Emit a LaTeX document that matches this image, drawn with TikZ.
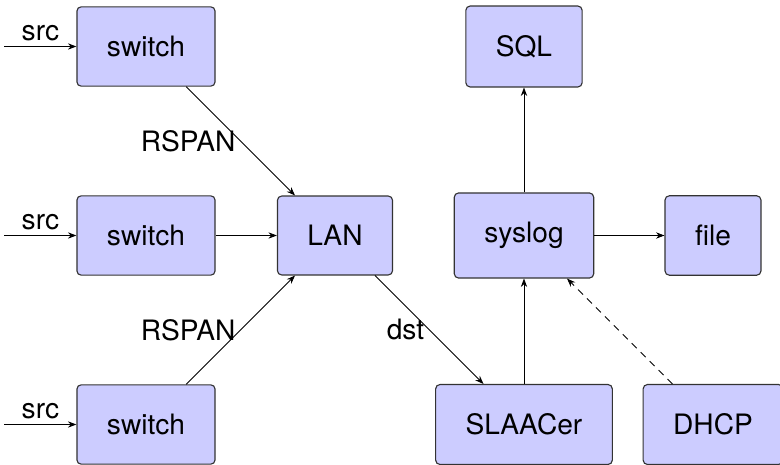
\documentclass[tikz,border=0pt]{standalone}
\usepackage{fontspec}
\setmainfont{TeX Gyre Heros}
\usepackage{tikz}
\usetikzlibrary{arrows.meta}

\tikzset{
    box/.style={draw=black!80, line width=0.8pt, fill=blue!20, rounded corners=3pt,
        inner xsep=0.75cm, inner ysep=0.73cm},
    pfeil/.style={-{Stealth[length=6pt,width=4.5pt]}, line width=0.6pt},
}

\begin{document}
\begin{tikzpicture}[x=4.725cm, y=4.725cm, font=\fontsize{20}{24}\selectfont]
    % Rahmen des Bildes
    \useasboundingbox (-3.65cm,-1.0125cm) rectangle (15.85cm,10.6125cm);

    % Switches links
    \node[box] (sw1) at (0,2) {switch};
    \node[box] (sw2) at (0,1) {switch};
    \node[box] (sw3) at (0,0) {switch};

    % Netz und Dienste
    \node[box] (lan) at (1,1) {LAN};
    \node[box] (sql) at (2,2) {SQL};
    \node[box] (syslog) at (2,1) {syslog};
    \node[box] (file) at (3,1) {file};
    \node[box] (slaacer) at (2,0) {SLAACer};
    \node[box] (dhcp) at (3,0) {DHCP};

    % Eingaenge der Switches
    \coordinate (src1) at ([xshift=-1.8cm]sw1.west);
    \coordinate (src2) at ([xshift=-1.8cm]sw2.west);
    \coordinate (src3) at ([xshift=-1.8cm]sw3.west);
    \draw[pfeil] (src1) -- node[above] {src} (sw1);
    \draw[pfeil] (src2) -- node[above] {src} (sw2);
    \draw[pfeil] (src3) -- node[above] {src} (sw3);

    % Spiegelung ins LAN
    \draw[pfeil] (sw1) -- node[left] {RSPAN} (lan);
    \draw[pfeil] (sw2) -- (lan);
    \draw[pfeil] (sw3) -- node[left] {RSPAN} (lan);
    \draw[pfeil] (lan) -- node[left] {dst} (slaacer);

    % Protokollierung
    \draw[pfeil] (slaacer) -- (syslog);
    \draw[pfeil] (syslog) -- (sql);
    \draw[pfeil] (syslog) -- (file);
    \draw[pfeil, dash pattern=on 5pt off 4pt] (dhcp) -- (syslog);
\end{tikzpicture}
\end{document}
